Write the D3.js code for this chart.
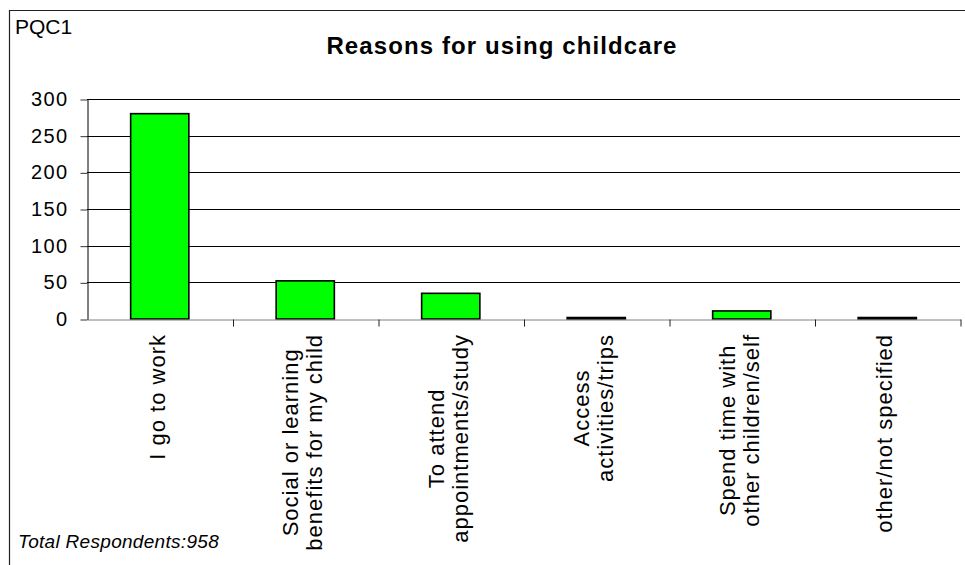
<!DOCTYPE html>
<html>
<head>
<meta charset="utf-8">
<script src="https://cdn.jsdelivr.net/npm/d3@7"></script>
<style>
  html, body { margin: 0; padding: 0; background: #fff; }
  svg { display: block; font-family: "Liberation Sans", Arial, sans-serif; }
</style>
</head>
<body>
<svg id="chart" width="965" height="565"></svg>
<script>
// Reasons for using childcare (PQC1)
const categories = [
  "I go to work",
  "Social or learning\nbenefits for my child",
  "To attend\nappointments/study",
  "Access\nactivities/trips",
  "Spend time with\nother children/self",
  "other/not specified"
];
const counts = [280, 52, 35, 2, 11, 2];
const yTickValues = [0, 50, 100, 150, 200, 250, 300];
const chartTitle = "Reasons for using childcare";
const questionCode = "PQC1";
const footnote = "Total Respondents:958";

const svg = d3.select("#chart");
const W = 965, H = 565;
const plot = { left: 87, right: 960, top: 99, bottom: 319 };

// outer frame (top and left edges visible)
svg.append("path")
  .attr("d", `M9.5,${H} V10.5 H${W}`)
  .attr("fill", "none")
  .attr("stroke", "#222")
  .attr("stroke-width", 1.2);

svg.append("text")
  .attr("x", 15).attr("y", 34)
  .attr("font-size", 21)
  .attr("fill", "#000")
  .text(questionCode);

svg.append("text")
  .attr("x", 502).attr("y", 54)
  .attr("text-anchor", "middle")
  .attr("font-size", 24)
  .attr("font-weight", "bold")
  .attr("letter-spacing", 1.1)
  .attr("fill", "#000")
  .text(chartTitle);

const x = d3.scaleBand()
  .domain(d3.range(categories.length))
  .range([plot.left, plot.right])
  .paddingInner(0.6)
  .paddingOuter(0.3);

// category boundaries for the x-axis tick marks
const xEdges = d3.scaleLinear()
  .domain([0, categories.length])
  .range([plot.left, plot.right]);

const y = d3.scaleLinear()
  .domain([0, 300])
  .range([plot.bottom, plot.top]);

// horizontal gridlines
svg.append("g")
  .selectAll("line")
  .data(yTickValues.filter(v => v > 0))
  .join("line")
  .attr("x1", plot.left).attr("x2", plot.right)
  .attr("y1", d => Math.round(y(d)) + 0.5)
  .attr("y2", d => Math.round(y(d)) + 0.5)
  .attr("stroke", "#000")
  .attr("stroke-width", 1);

// y axis
const yAxis = svg.append("g")
  .attr("transform", `translate(${plot.left + 0.5},0.5)`)
  .call(d3.axisLeft(y).tickValues(yTickValues).tickSize(7).tickSizeOuter(0).tickPadding(12));
yAxis.select(".domain").attr("stroke", "#000");
yAxis.selectAll(".tick line").attr("stroke", "#333");
yAxis.selectAll(".tick text")
  .attr("font-size", 20)
  .attr("letter-spacing", 1.4)
  .attr("font-family", "Liberation Sans, Arial, sans-serif")
  .attr("fill", "#000")
  .attr("dy", "0.3em");

// bars
svg.append("g")
  .selectAll("rect")
  .data(counts)
  .join("rect")
  .attr("x", (d, i) => x(i))
  .attr("y", d => y(d))
  .attr("width", x.bandwidth())
  .attr("height", d => y(0) - y(d))
  .attr("fill", "#00ff00")
  .attr("stroke", "#000")
  .attr("stroke-width", 1.6);

// x axis with ticks at category boundaries
const xAxis = svg.append("g")
  .attr("transform", `translate(0.5,${Math.round(y(0)) + 0.5})`)
  .call(d3.axisBottom(xEdges).tickValues(d3.range(1, categories.length + 1))
    .tickSize(7).tickSizeOuter(0).tickFormat(""));
xAxis.select(".domain").attr("stroke", "#808080");
xAxis.selectAll(".tick line").attr("stroke", "#222");

// rotated multi-line category labels, lines centred within their block
const labelTop = 334;
const lineGap = 24;
const labels = svg.append("g")
  .attr("font-size", 22)
  .attr("letter-spacing", 1)
  .attr("fill", "#000");

categories.forEach((label, i) => {
  const lines = label.split("\n");
  const cx = x(i) + x.bandwidth() / 2;
  const g = labels.append("g");
  const texts = lines.map((line, j) => {
    const bx = cx + (j - (lines.length - 1) / 2) * lineGap + 5;
    return g.append("text")
      .attr("text-anchor", "middle")
      .attr("data-bx", bx)
      .text(line);
  });
  const lengths = texts.map(t => t.node().getComputedTextLength());
  const blockLen = d3.max(lengths);
  texts.forEach((t) => {
    const bx = +t.attr("data-bx");
    const cy = labelTop + blockLen / 2;
    t.attr("transform", `translate(${bx},${cy}) rotate(-90)`);
  });
});

svg.append("text")
  .attr("x", 18).attr("y", 548)
  .attr("font-size", 19)
  .attr("font-style", "italic")
  .attr("letter-spacing", 0.3)
  .attr("fill", "#000")
  .text(footnote);
</script>
</body>
</html>
